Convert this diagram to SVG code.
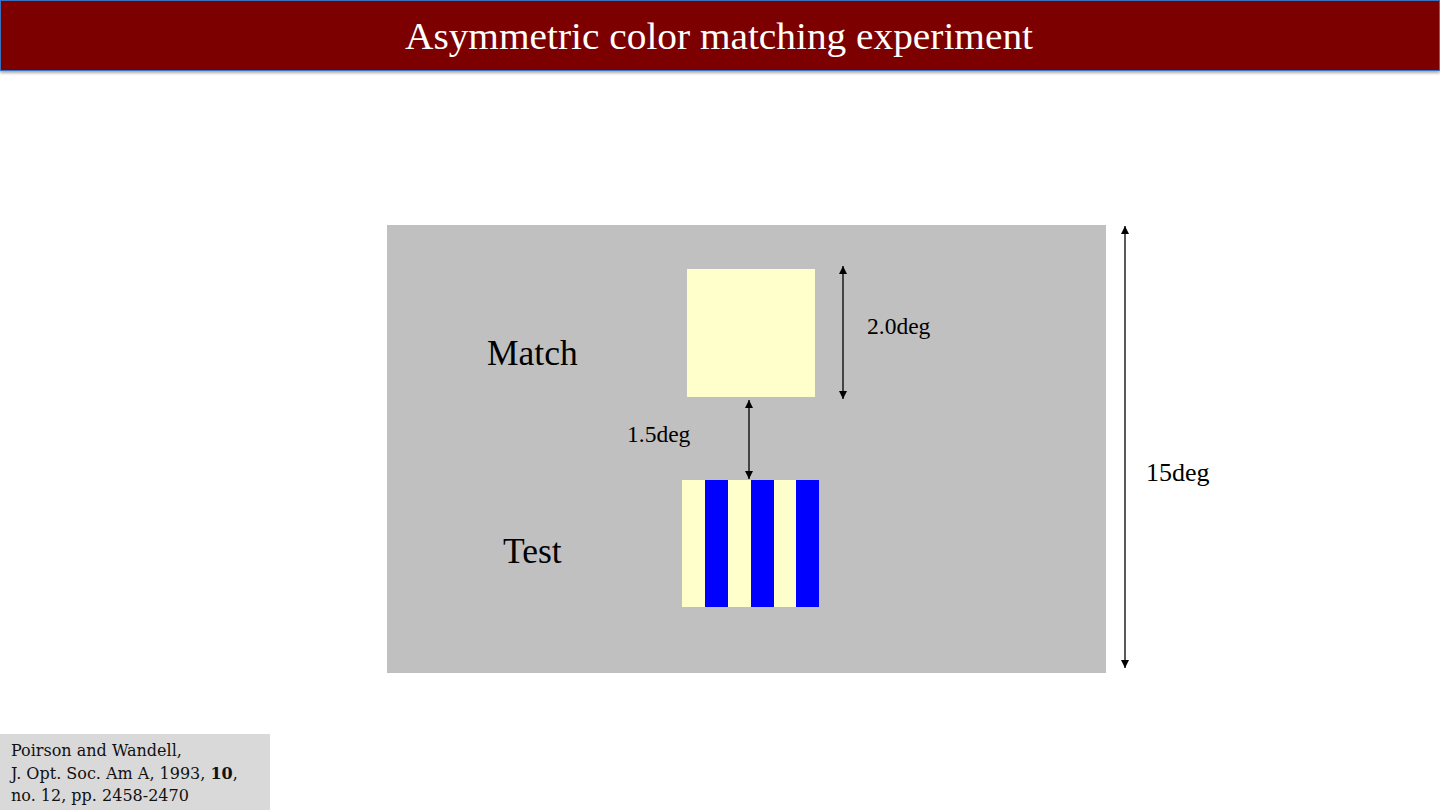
<svg xmlns="http://www.w3.org/2000/svg" width="1440" height="810" viewBox="0 0 1440 810">
<defs>
<marker id="ah" viewBox="0 0 10 10" refX="10" refY="5" markerWidth="8" markerHeight="8" markerUnits="userSpaceOnUse" orient="auto-start-reverse">
<path d="M0,0 L10,5 L0,10 z" fill="#000"/>
</marker>
<filter id="sh" x="-5%" y="-20%" width="110%" height="160%">
<feDropShadow dx="0" dy="2" stdDeviation="1.5" flood-color="#000" flood-opacity="0.35"/>
</filter>
<style>
.lbl{font-family:"Liberation Serif","Times New Roman",serif;fill:#000}
.cite{font-family:"DejaVu Serif","Liberation Serif",serif;font-size:16px;fill:#111}
.conn{stroke:#000;stroke-width:1.3;fill:none}
.cream{fill:#FFFFCC}
.blue{fill:#0000FF}
</style>
</defs>
<rect width="1440" height="810" fill="#fff"/>
<g id="header">
<rect x="0.5" y="0.5" width="1439" height="70" fill="#7B0000" stroke="#3A6FC0" stroke-width="1" filter="url(#sh)"/>
<text x="719" y="49" text-anchor="middle" font-family="'Liberation Serif','Times New Roman',serif" font-size="38" fill="#fff" textLength="628" lengthAdjust="spacingAndGlyphs">Asymmetric color matching experiment</text>
</g>
<g id="background">
<rect x="387" y="225" width="719" height="448" fill="#C0C0C0"/>
</g>
<g id="match-label"><text class="lbl" x="487" y="365" font-size="35.5">Match</text></g>
<g id="test-label"><text class="lbl" x="503" y="563" font-size="35.5">Test</text></g>
<g id="match-patch"><rect class="cream" x="687" y="269" width="128" height="128"/></g>
<g id="test-patch">
<rect class="cream" x="682" y="480" width="137" height="127"/>
<rect class="blue" x="705" y="480" width="23" height="127"/>
<rect class="blue" x="751" y="480" width="23" height="127"/>
<rect class="blue" x="796" y="480" width="23" height="127"/>
</g>
<g id="connectors">
<line class="conn" x1="843" y1="266" x2="843" y2="399" marker-start="url(#ah)" marker-end="url(#ah)"/>
<line class="conn" x1="749" y1="400" x2="749" y2="479" marker-start="url(#ah)" marker-end="url(#ah)"/>
<line class="conn" x1="1125" y1="226" x2="1125" y2="668" marker-start="url(#ah)" marker-end="url(#ah)"/>
</g>
<g id="dim-labels">
<text class="lbl" x="867" y="334" font-size="23.5">2.0deg</text>
<text class="lbl" x="627" y="442" font-size="23.5">1.5deg</text>
<text class="lbl" x="1146" y="481" font-size="26">15deg</text>
</g>
<g id="citation">
<rect x="0" y="734" width="270" height="76" fill="#D9D9D9"/>
<text class="cite" x="11" y="756">Poirson and Wandell,</text>
<text class="cite" x="11" y="779">J. Opt. Soc. Am A, 1993, <tspan font-weight="bold">10</tspan>,</text>
<text class="cite" x="11" y="801">no. 12, pp. 2458-2470</text>
</g>
</svg>
